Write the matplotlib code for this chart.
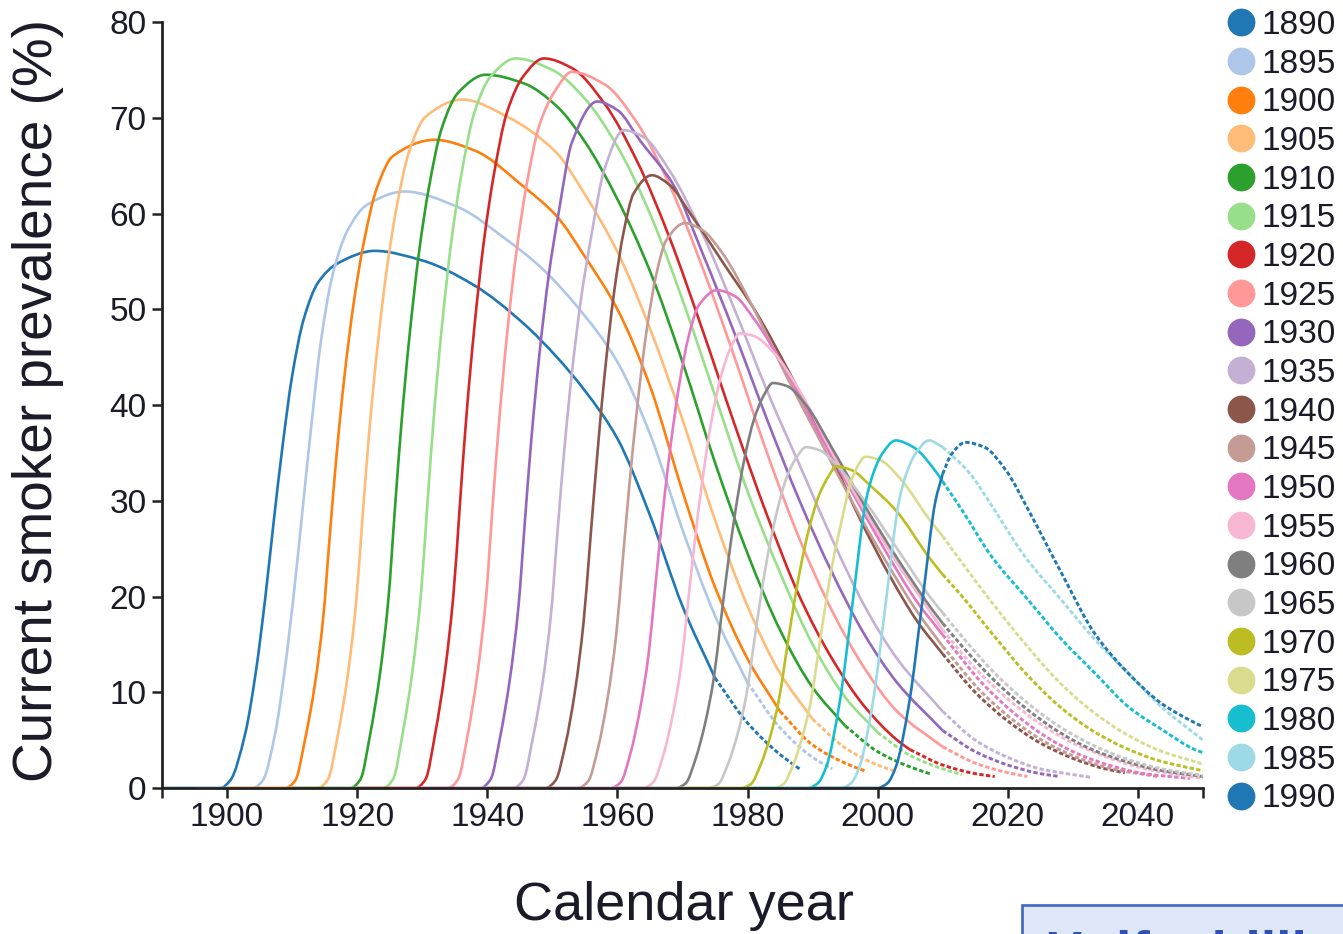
import matplotlib
matplotlib.use("Agg")
import matplotlib.pyplot as plt
import numpy as np
from matplotlib.lines import Line2D
from matplotlib.patches import Rectangle, PathPatch
from matplotlib.path import Path

plt.rcParams['font.family'] = ['Liberation Sans', 'DejaVu Sans']

# birth cohorts and their colours (tab20 order, wraps for 1990)
cohorts = [1890, 1895, 1900, 1905, 1910, 1915, 1920, 1925, 1930, 1935, 1940,
           1945, 1950, 1955, 1960, 1965, 1970, 1975, 1980, 1985, 1990]
colors = ['#1f77b4', '#aec7e8', '#ff7f0e', '#ffbb78', '#2ca02c', '#98df8a',
          '#d62728', '#ff9896', '#9467bd', '#c5b0d5', '#8c564b', '#c49c94',
          '#e377c2', '#f7b6d2', '#7f7f7f', '#c7c7c7', '#bcbd22', '#dbdb8d',
          '#17becf', '#9edae5', '#1f77b4']
# observed (solid) up to this year, projected (dashed) after
solid_until = [1975, 1980, 1985, 1990, 1995, 2000, 2005, 2010, 2010, 2010, 2010,
               2010, 2010, 2010, 2010, 2010, 2010, 2010, 2010, 2010, 2010]

# (calendar year, current smoker prevalence %)
c1890 = [(1890, 0), (1899, 0), (1900.5, 0.8), (1902.8, 5.7), (1904.4, 12), (1905.9, 20),
         (1907.2, 28), (1908.5, 35.5), (1910, 43), (1911.8, 49), (1914, 52.8),
         (1917, 54.8), (1922.7, 56.1), (1930, 55.1), (1938, 52.5), (1945.6, 48.5),
         (1950.7, 45), (1955, 41.5), (1960, 36.5), (1965, 28.5), (1970, 19),
         (1975, 11.5), (1980, 6.8), (1985, 3.5), (1988, 2.0)]
c1895 = [(1895, 0), (1904, 0), (1905.5, 0.8), (1907.4, 5.7), (1908.9, 12.5),
         (1910.3, 20.5), (1911.6, 29), (1912.9, 37.5), (1914.4, 46.5), (1916.2, 53.5),
         (1918.5, 58.2), (1921.5, 60.9), (1927.3, 62.3), (1935.4, 60.7), (1943.1, 57.2),
         (1948.2, 54.4), (1953.8, 50.3), (1960, 44.5), (1965, 37), (1970, 27),
         (1975, 18), (1980, 11), (1985, 6.3), (1990, 3.2), (1993, 2)]
c1900 = [(1900, 0), (1909, 0), (1910.5, 0.8), (1912, 5.1), (1913.5, 10.8), (1914.8, 17.9),
         (1915.8, 26.4), (1916.8, 34.5), (1918, 42.7), (1919.5, 50.8), (1921, 56.9),
         (1923, 62.6), (1925.5, 66), (1931.9, 67.7), (1938, 66.6), (1945.6, 62.8),
         (1950.7, 59.7), (1955, 55.5), (1960, 50), (1965, 42), (1970, 31), (1975, 21),
         (1980, 13.5), (1985, 8), (1990, 4.5), (1995, 2.6), (1998, 1.8)]
c1905 = [(1905, 0), (1914, 0), (1915.5, 0.9), (1917, 5.4), (1918.5, 11.5), (1919.8, 19.1),
         (1920.8, 28), (1921.8, 36.7), (1923, 45.3), (1924.5, 53.9), (1926, 60.4),
         (1928, 66.5), (1930.5, 70.1), (1936.2, 71.9), (1943.1, 70.1), (1950.7, 66.3),
         (1955, 62), (1960, 56), (1965, 48), (1970, 38.5), (1975, 28), (1980, 19),
         (1985, 12), (1990, 7.2), (1995, 4.2), (2000, 2.4), (2003, 1.7)]
c1910 = [(1910, 0), (1919, 0), (1920.5, 0.9), (1922, 5.6), (1923.5, 11.9), (1924.8, 19.7),
         (1925.8, 29.1), (1926.8, 38), (1928, 46.9), (1929.5, 55.9), (1931, 62.6),
         (1933, 68.9), (1935.5, 72.6), (1939.8, 74.5), (1945.6, 73.6), (1950.7, 71.2),
         (1955, 67.5), (1960, 61.5), (1965, 54), (1970, 44.5), (1975, 34), (1980, 24.5),
         (1985, 16.5), (1990, 10.5), (1995, 6.5), (2000, 3.8), (2005, 2.2), (2008, 1.5)]
c1915 = [(1915, 0), (1924, 0), (1925.5, 0.9), (1927, 5.7), (1928.5, 12.2), (1929.8, 20.2),
         (1930.8, 29.7), (1931.8, 38.9), (1933, 48), (1934.5, 57.2), (1936, 64),
         (1938, 70.5), (1940.5, 74.3), (1944.4, 76.2), (1950, 75), (1955, 72), (1960, 67),
         (1965, 60), (1970, 51), (1975, 41), (1980, 31), (1985, 22.5), (1990, 15),
         (1995, 9.5), (2000, 5.8), (2005, 3.4), (2010, 2), (2013, 1.4)]
c1920 = [(1920, 0), (1929, 0), (1930.5, 0.9), (1932, 5.7), (1933.5, 12.2), (1934.8, 20.2),
         (1935.8, 29.7), (1936.8, 38.9), (1938, 48), (1939.5, 57.2), (1941, 64),
         (1943, 70.5), (1945.5, 74.3), (1948.7, 76.2), (1953, 75.2), (1958, 71.5),
         (1963, 65.5), (1968, 57.5), (1973, 48), (1978, 38), (1983, 28.5), (1988, 20),
         (1993, 13.5), (1998, 8.5), (2003, 5), (2005, 4), (2010, 2.4), (2015, 1.5),
         (2018, 1.2)]
c1925 = [(1925, 0), (1934, 0), (1935.5, 0.9), (1937, 5.6), (1938.5, 12), (1939.8, 19.8),
         (1940.8, 29.2), (1941.8, 38.1), (1943, 47.1), (1944.5, 56.1), (1946, 62.8),
         (1948, 69.2), (1950.5, 72.9), (1953, 74.8), (1958, 73.5), (1963, 69.5),
         (1968, 63), (1973, 54.5), (1978, 45), (1983, 35), (1988, 26), (1993, 18.5),
         (1998, 12.5), (2003, 8), (2010, 4.3), (2015, 2.6), (2020, 1.6), (2023, 1.2)]
c1930 = [(1930, 0), (1939, 0), (1940.5, 0.9), (1942, 5.4), (1943.5, 11.5), (1944.8, 19),
         (1945.8, 28), (1946.8, 36.6), (1948, 45.2), (1949.5, 53.8), (1951, 60.2),
         (1953, 67.4), (1956.9, 71.7), (1960, 70.8), (1963.5, 67.6), (1968.6, 63),
         (1973, 56), (1978, 47.5), (1983, 38.5), (1988, 30), (1993, 22.5), (1998, 16),
         (2003, 11), (2010, 6), (2015, 3.8), (2020, 2.4), (2025, 1.5), (2028, 1.2)]
c1935 = [(1935, 0), (1944, 0), (1945.5, 0.8), (1947, 5.2), (1948.5, 11), (1949.8, 18.2),
         (1950.8, 26.8), (1951.8, 35), (1953, 43.3), (1954.5, 51.5), (1956, 57.7),
         (1958, 64.6), (1961, 68.7), (1964, 68), (1968, 64.5), (1973, 58), (1978, 50),
         (1983, 41.5), (1989, 32.2), (1993, 26), (1998, 19), (2003, 13.5), (2010, 8),
         (2015, 5), (2020, 3.2), (2025, 2), (2030, 1.4), (2033, 1.1)]
c1940 = [(1940, 0), (1949, 0), (1950.5, 0.8), (1952, 4.5), (1953.5, 10.2), (1954.8, 17.3),
         (1955.8, 25.6), (1956.8, 33.9), (1958, 42.9), (1959.5, 51.8), (1961, 58.2),
         (1962.5, 62.1), (1965.3, 64), (1968, 63), (1971.2, 60), (1976.3, 54.8),
         (1981.4, 49.6), (1986.5, 43.3), (1992, 36), (1997, 28.5), (2002, 22),
         (2006, 17.5), (2010, 14), (2015, 10), (2020, 7), (2025, 4.7), (2030, 3.1),
         (2035, 2), (2038, 1.6)]
c1945 = [(1945, 0), (1954, 0), (1955.5, 0.7), (1957, 4.1), (1958.5, 9.4), (1959.8, 15.9),
         (1960.8, 23.6), (1961.8, 31.3), (1963, 39.5), (1964.5, 47.8), (1966, 53.7),
         (1967.5, 57.2), (1970.4, 59), (1973, 58.3), (1976, 56), (1981, 50), (1986, 43),
         (1991, 36.5), (1996, 30), (2001, 24), (2006, 18.5), (2010, 14.8), (2016, 10),
         (2021, 7), (2026, 4.7), (2031, 3.1), (2036, 2), (2043, 1.2)]
c1950 = [(1950, 0), (1959, 0), (1960.5, 0.6), (1962, 3.6), (1963.5, 8.3), (1964.8, 14),
         (1965.8, 20.8), (1966.8, 27.6), (1968, 34.8), (1969.5, 42.1), (1971, 47.3),
         (1972.5, 50.4), (1975.3, 52), (1978, 51.4), (1981, 49), (1986, 43.5), (1991, 37),
         (1996, 31), (2001, 25), (2006, 19.5), (2010, 16), (2016, 11), (2021, 7.8),
         (2026, 5.3), (2031, 3.5), (2036, 2.3), (2041, 1.5), (2048, 1)]
c1955 = [(1955, 0), (1964, 0), (1965.5, 0.6), (1967, 3.3), (1968.5, 7.6), (1969.8, 12.8),
         (1970.8, 19), (1971.8, 25.2), (1973, 31.8), (1974.5, 38.5), (1976, 43.2),
         (1977.5, 46.1), (1978.8, 47.5), (1981, 47.2), (1984, 45.5), (1988, 41.5),
         (1993, 35), (1998, 29), (2003, 23.5), (2010, 16.5), (2015, 12.5), (2020, 9.3),
         (2025, 6.7), (2030, 4.7), (2035, 3.3), (2040, 2.2), (2045, 1.5), (2050, 1.0)]
c1960 = [(1960, 0), (1969, 0), (1970.5, 0.5), (1972, 3), (1973.5, 6.8), (1974.8, 11.4),
         (1975.8, 16.9), (1976.8, 22.4), (1978, 28.3), (1979.5, 34.3), (1981, 38.5),
         (1982.5, 41), (1983.9, 42.3), (1986, 42), (1989, 40), (1993, 35.5), (1998, 29.5),
         (2003, 24), (2008, 19), (2010, 17.2), (2013, 14.8), (2018, 11.2), (2023, 8.2),
         (2028, 5.8), (2033, 4), (2038, 2.8), (2043, 1.9), (2050, 1.2)]
c1965 = [(1965, 0), (1974, 0), (1975.5, 0.4), (1977, 2.5), (1978.5, 5.7), (1979.8, 9.6),
         (1980.8, 14.2), (1981.8, 18.9), (1983, 23.9), (1984.5, 28.8), (1986, 32.4),
         (1987.5, 34.5), (1989, 35.6), (1991, 35.3), (1994, 33.5), (1998, 30), (2003, 25),
         (2008, 20), (2010, 18.3), (2013, 15.8), (2018, 12), (2023, 8.9), (2028, 6.4),
         (2033, 4.5), (2038, 3.1), (2043, 2.1), (2050, 1.3)]
c1970 = [(1970, 0), (1979, 0), (1980.5, 0.4), (1982, 2.4), (1983.5, 5.4), (1984.8, 9.1),
         (1985.8, 13.4), (1986.8, 17.8), (1988, 22.5), (1989.5, 27.2), (1991, 30.6),
         (1992.5, 32.6), (1993.6, 33.6), (1996, 33.2), (1999, 31.5), (2002.8, 29),
         (2008, 24), (2010, 22.3), (2013, 20), (2018, 15.8), (2023, 11.8), (2028, 8.5),
         (2033, 6), (2038, 4.2), (2043, 2.9), (2050, 1.8)]
c1975 = [(1975, 0), (1984, 0), (1985.5, 0.4), (1987, 2.4), (1988.5, 5.5), (1989.8, 9.3),
         (1990.8, 13.8), (1991.8, 18.3), (1993, 23.2), (1994.5, 28), (1996, 32.2),
         (1998.2, 34.6), (2000.5, 34.2), (2003.5, 32.3), (2008, 28), (2010, 26.3),
         (2013, 23.5), (2018, 19), (2023, 14.8), (2028, 11), (2033, 8), (2038, 5.7),
         (2043, 4), (2050, 2.5)]
c1980 = [(1980, 0), (1989.3, 0), (1990.8, 0.5), (1992.1, 2.2), (1994.2, 9.1),
         (1996.2, 19.6), (1998.2, 30), (1999.3, 32.8), (2000.6, 34.8), (2002.8, 36.3),
         (2005.5, 35.6), (2009, 33), (2010, 32), (2013, 29), (2017.5, 24.2),
         (2023.2, 19.6), (2028.3, 15.5), (2033.4, 12), (2038.5, 8.5), (2043.7, 6.1),
         (2048.8, 4.0), (2050, 3.7)]
c1985 = [(1985, 0), (1994.4, 0), (1995.9, 0.5), (1997.2, 2.2), (1999.3, 9.1),
         (2001.3, 19.6), (2003.3, 30), (2004.4, 32.8), (2005.7, 34.8), (2007.9, 36.3),
         (2010, 35.6), (2014, 33), (2018, 29), (2022.6, 24.2), (2028.3, 19.6),
         (2033.4, 15.5), (2038.5, 12), (2043.6, 8.5), (2050, 5.0)]
c1990 = [(1990, 0), (2000, 0), (2001.5, 0.5), (2002.8, 2.2), (2004.9, 9.1), (2006.9, 19.6),
         (2008.9, 30), (2010, 32.8), (2011.3, 34.8), (2013.5, 36.1), (2016.4, 35.6),
         (2019.7, 33.2), (2023.2, 29), (2028.3, 22.4), (2033.4, 16.1), (2038.5, 12),
         (2043.7, 8.8), (2048.8, 6.8), (2050, 6.4)]

curves = [c1890, c1895, c1900, c1905, c1910, c1915, c1920, c1925, c1930, c1935, c1940,
          c1945, c1950, c1955, c1960, c1965, c1970, c1975, c1980, c1985, c1990]


def smooth_path(xs, ys):
    """Bezier path through the points, monotone (pchip-style) tangents."""
    x = np.asarray(xs, float)
    y = np.asarray(ys, float)
    h = np.diff(x)
    delta = np.diff(y) / h
    d = np.zeros_like(x)
    d[0], d[-1] = delta[0], delta[-1]
    for k in range(1, len(x) - 1):
        if delta[k - 1] * delta[k] > 0:
            w1 = 2 * h[k] + h[k - 1]
            w2 = h[k] + 2 * h[k - 1]
            d[k] = (w1 + w2) / (w1 / delta[k - 1] + w2 / delta[k])
    verts = [(x[0], y[0])]
    codes = [Path.MOVETO]
    for k in range(len(x) - 1):
        t = h[k] / 3
        verts += [(x[k] + t, y[k] + d[k] * t), (x[k + 1] - t, y[k + 1] - d[k + 1] * t),
                  (x[k + 1], y[k + 1])]
        codes += [Path.CURVE4] * 3
    return Path(verts, codes)


fig = plt.figure(figsize=(13.43, 9.34), dpi=100)
ax = fig.add_axes([0.1206, 0.1563, 0.7751, 0.8201])

for pts, col, cut in zip(curves, colors, solid_until):
    yrs = [p[0] for p in pts]
    vals = [p[1] for p in pts]
    n_solid = len([x for x in yrs if x <= cut])
    ax.add_patch(PathPatch(smooth_path(yrs[:n_solid], vals[:n_solid]), fill=False,
                           edgecolor=col, lw=1.9, capstyle='butt', zorder=2))
    if n_solid < len(yrs):
        ax.add_patch(PathPatch(smooth_path(yrs[n_solid - 1:], vals[n_solid - 1:]),
                               fill=False, edgecolor=col, lw=2.1,
                               linestyle=(0, (1.5, 0.8)), zorder=2))

ax.set_xlim(1890, 2050)
ax.set_ylim(0, 80)
ax.set_xticks(range(1900, 2041, 20))
ax.set_xticks([1890, 2050], minor=True)
ax.set_yticks(range(0, 81, 10))
ax.tick_params(which='both', direction='out', length=7, width=1.8, color='#222222',
               labelsize=24, labelcolor='#1a1a28')
ax.tick_params(axis='x', pad=3)
ax.tick_params(axis='y', pad=4)
for side in ['top', 'right']:
    ax.spines[side].set_visible(False)
for side in ['left', 'bottom']:
    ax.spines[side].set_linewidth(2)
    ax.spines[side].set_color('#222222')

fig.text(38 / 1343, 1 - 400 / 934, 'Current smoker prevalence (%)', rotation=90,
         ha='center', va='center', fontsize=39.5, color='#1a1a28')
fig.text(684 / 1343, 1 - 906 / 934, 'Calendar year', ha='center', va='center',
         fontsize=39, color='#1a1a28')

handles = [Line2D([], [], ls='none', marker='o', markersize=19, color=c) for c in colors]
fig.legend(handles, [str(c) for c in cohorts], loc='upper left',
           bbox_to_anchor=(1228 / 1343, 1 - 10 / 934), frameon=False, fontsize=24,
           handlelength=0.8, handletextpad=0.22, labelspacing=0.23, borderpad=0,
           borderaxespad=0, labelcolor='#1a1a28')

# partially visible caption box at bottom right
fig.patches.append(Rectangle((1022 / 1343, -0.02), 0.3, 0.02 + 29 / 934,
                             transform=fig.transFigure, facecolor='#dfe6f8',
                             edgecolor='#4a6cc0', lw=2))
fig.text(1045 / 1343, 1 - 929 / 934, 'Half a billion', ha='left', va='top',
         fontsize=40, fontweight='bold', color='#2f52b0')

fig.savefig('out.png', dpi=100)
